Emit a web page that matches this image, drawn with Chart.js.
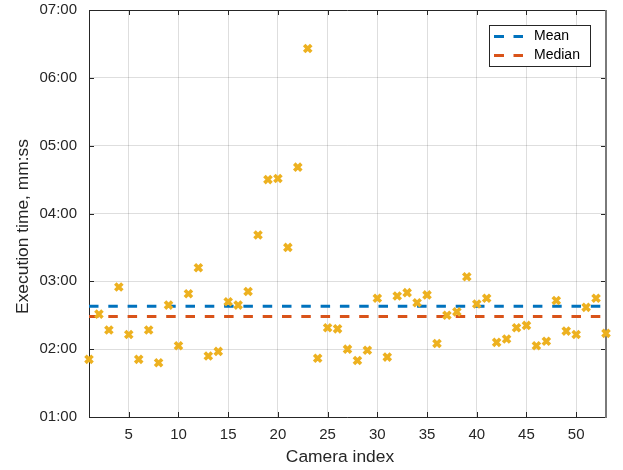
<!DOCTYPE html>
<html>
<head>
<meta charset="utf-8">
<script src="https://cdn.jsdelivr.net/npm/chart.js@4"></script>
<style>
  html, body { margin: 0; padding: 0; background: #fff; }
  #chart { display: block; }
</style>
</head>
<body>
<canvas id="chart" width="623" height="470"></canvas>
<script>
// values (seconds)
const cameraIndex = [1, 2, 3, 4, 5, 6, 7, 8, 9, 10, 11, 12, 13, 14, 15, 16, 17, 18, 19, 20,
    21, 22, 23, 24, 25, 26, 27, 28, 29, 30, 31, 32, 33, 34, 35, 36, 37, 38, 39, 40,
    41, 42, 43, 44, 45, 46, 47, 48, 49, 50, 51, 52, 53];
const execTime = [111, 151, 137, 175, 133, 111, 137, 108, 159, 123, 169, 192, 114, 118, 162, 159, 171, 221, 270, 271,
    210, 281, 386, 112, 139, 138, 120, 110, 119, 165, 113, 167, 170, 161, 168, 125, 150, 153, 184, 160,
    165, 126, 129, 139, 141, 123, 127, 163, 136, 133, 157, 165, 134];
const meanTime = 158;
const medianTime = 149;
const xTicks = [5, 10, 15, 20, 25, 30, 35, 40, 45, 50];
const yTicks = [60, 120, 180, 240, 300, 360, 420];

const FONT = "'Liberation Sans', Arial, Helvetica, sans-serif";
const TEXT = '#262626';
const DASH = [9.5, 9.8];

function mmss(v) {
    const m = Math.floor(v / 60), s = Math.round(v % 60);
    return String(m).padStart(2, '0') + ':' + String(s).padStart(2, '0');
}

// axes box with inward ticks, plus the two axis titles
const frame = {
    id: 'frame',
    beforeDatasetsDraw(chart) {
        const { ctx, chartArea: { left, right, top, bottom }, scales: { x, y } } = chart;
        ctx.save();
        ctx.strokeStyle = TEXT;
        ctx.lineWidth = 1;
        ctx.beginPath();
        ctx.moveTo(left + 0.5, top + 0.5);
        ctx.lineTo(left + 0.5, bottom + 0.5);
        ctx.lineTo(right, bottom + 0.5);
        ctx.moveTo(left, top + 0.5);
        ctx.lineTo(right, top + 0.5);
        xTicks.forEach(v => {
            const px = Math.round(x.getPixelForValue(v)) + 0.5;
            ctx.moveTo(px, bottom); ctx.lineTo(px, bottom - 5);
            ctx.moveTo(px, top); ctx.lineTo(px, top + 5);
        });
        yTicks.forEach(v => {
            const py = Math.round(y.getPixelForValue(v)) + 0.5;
            ctx.moveTo(left, py); ctx.lineTo(left + 5, py);
            ctx.moveTo(right, py); ctx.lineTo(right - 5, py);
        });
        ctx.stroke();
        ctx.strokeStyle = '#7a7a7a';
        ctx.lineWidth = 2;
        ctx.beginPath();
        ctx.moveTo(right, top);
        ctx.lineTo(right, bottom + 1);
        ctx.stroke();

        ctx.fillStyle = TEXT;
        ctx.font = '17.4px ' + FONT;
        ctx.textAlign = 'center';
        ctx.textBaseline = 'alphabetic';
        ctx.fillText('Camera index', 340, 461.5);
        ctx.translate(28, 226.5);
        ctx.rotate(-Math.PI / 2);
        ctx.fillText('Execution time, mm:ss', 0, 0);
        ctx.restore();
    }
};

const legendBox = {
    id: 'legendBox',
    afterDatasetsDraw(chart) {
        const { ctx } = chart;
        const items = [['Mean', '#0072BD', 36.5], ['Median', '#D95319', 55.5]];
        ctx.save();
        ctx.fillStyle = '#fff';
        ctx.fillRect(489.5, 25.5, 101, 41);
        ctx.strokeStyle = TEXT;
        ctx.lineWidth = 1;
        ctx.strokeRect(489.5, 25.5, 101, 41);
        items.forEach(([label, color, ly]) => {
            ctx.strokeStyle = color;
            ctx.lineWidth = 3;
            ctx.setLineDash([10, 9.5]);
            ctx.beginPath();
            ctx.moveTo(494, ly);
            ctx.lineTo(523, ly);
            ctx.stroke();
            ctx.setLineDash([]);
            ctx.fillStyle = '#000';
            ctx.font = '14px ' + FONT;
            ctx.textBaseline = 'middle';
            ctx.textAlign = 'left';
            ctx.fillText(label, 534, ly);
        });
        ctx.restore();
    }
};

new Chart(document.getElementById('chart'), {
    type: 'scatter',
    data: {
        datasets: [{
            label: 'Execution time',
            data: cameraIndex.map((c, i) => ({ x: c, y: execTime[i] })),
            pointStyle: 'crossRot',
            pointRadius: 5,
            borderColor: '#EDB120',
            backgroundColor: '#EDB120',
            pointBorderWidth: 3.6,
            clip: false
        }, {
            type: 'line',
            label: 'Mean',
            data: [{ x: cameraIndex[0], y: meanTime }, { x: cameraIndex[cameraIndex.length - 1], y: meanTime }],
            borderColor: '#0072BD',
            borderWidth: 3,
            borderDash: DASH,
            pointRadius: 0
        }, {
            type: 'line',
            label: 'Median',
            data: [{ x: cameraIndex[0], y: medianTime }, { x: cameraIndex[cameraIndex.length - 1], y: medianTime }],
            borderColor: '#D95319',
            borderWidth: 3,
            borderDash: DASH,
            pointRadius: 0
        }]
    },
    options: {
        responsive: false,
        animation: false,
        layout: { padding: { top: 10, right: 17, left: 0, bottom: 0 } },
        plugins: { legend: { display: false }, tooltip: { enabled: false } },
        scales: {
            x: {
                type: 'linear',
                min: 1,
                max: 53,
                afterBuildTicks: s => { s.ticks = xTicks.map(v => ({ value: v })); },
                afterFit: s => { s.height = 53; s.paddingLeft = 0; s.paddingRight = 0; },
                grid: { color: 'rgba(0,0,0,0.13)', drawTicks: false },
                border: { display: false },
                ticks: { color: TEXT, font: { family: FONT, size: 15 }, padding: 9, maxRotation: 0 }
            },
            y: {
                min: 60,
                max: 420,
                afterBuildTicks: s => { s.ticks = yTicks.map(v => ({ value: v })); },
                afterFit: s => { s.width = 89; s.paddingTop = 0; s.paddingBottom = 0; },
                grid: { color: 'rgba(0,0,0,0.13)', drawTicks: false },
                border: { display: false },
                ticks: { color: TEXT, font: { family: FONT, size: 15 }, padding: 12, callback: v => mmss(v) }
            }
        }
    },
    plugins: [frame, legendBox]
});
</script>
</body>
</html>
